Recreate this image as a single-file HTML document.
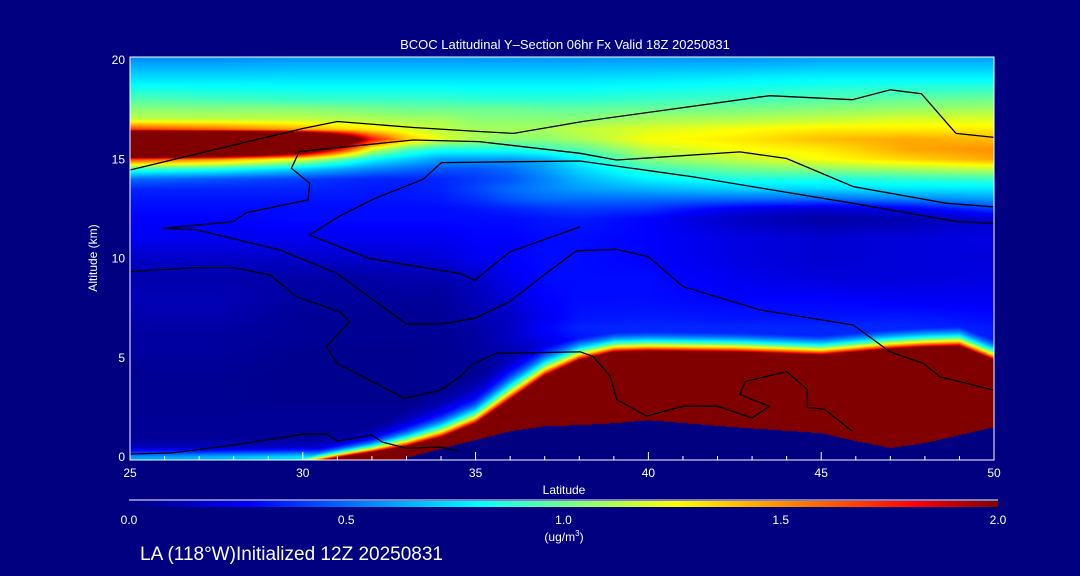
<!DOCTYPE html>
<html><head><meta charset="utf-8">
<style>
html,body{margin:0;padding:0;background:#000080;}
#wrap{position:relative;width:1080px;height:576px;background:#000080;overflow:hidden;font-family:"Liberation Sans",sans-serif;color:#fff;}
canvas{position:absolute;left:0;top:0;}
svg{position:absolute;left:0;top:0;}
</style></head>
<body>
<div id="wrap">
<canvas id="cv" width="1080" height="576"></canvas>
<svg id="sv" width="1080" height="576" xmlns="http://www.w3.org/2000/svg">
<defs>
<linearGradient id="cbg" x1="0" x2="1" y1="0" y2="0">
<stop offset="0" stop-color="#000080"/>
<stop offset="0.14" stop-color="#0000ff"/>
<stop offset="0.40" stop-color="#00ffff"/>
<stop offset="0.515" stop-color="#80ff80"/>
<stop offset="0.63" stop-color="#ffff00"/>
<stop offset="0.905" stop-color="#ff0000"/>
<stop offset="1" stop-color="#800000"/>
</linearGradient>
</defs>
<text x="565" y="49" font-size="13" fill="#fff" text-anchor="middle">BCOC Latitudinal Y–Section 06hr  Fx Valid 18Z 20250831</text>
<g id="contours"></g>
<g id="axes"></g>
<text x="564" y="494" font-size="12" fill="#fff" text-anchor="middle">Latitude</text>
<text x="97" y="258" font-size="12" fill="#fff" text-anchor="middle" transform="rotate(-90 97 258)">Altitude (km)</text>
<line x1="129" y1="500" x2="998" y2="500" stroke="#fff" stroke-width="1"/>
<rect x="129" y="501" width="869" height="6" fill="url(#cbg)"/>
<g id="cbticks"></g>
<text x="564" y="541" font-size="12" fill="#fff" text-anchor="middle">(ug/m<tspan font-size="8" dy="-5">3</tspan><tspan dy="5">)</tspan></text>
<text x="140" y="560" font-size="19" fill="#fff">LA (118°W)Initialized 12Z 20250831</text>
</svg>
</div>
<script>
const lats=[25,27.5,30,32,33,34,35,36,37,38,40,42.5,45,47.5,50];
const alts=[0,0.5,1,1.5,2,2.5,3,3.5,4,4.5,5,5.5,6,6.5,7,8,9,10,11,12,12.5,13,13.5,14,14.5,15,15.5,16,16.5,17,17.5,18,19,20];
const conc=[
[0.6,0.65,0.75,0.6,0.4,0.1,0.05,0.05,0.05,0.05,0.05,0.05,0.05,0.05,0.05],
[0.12,0.12,0.15,0.2,0.15,0.1,0.05,0.05,0.05,0.05,0.05,0.05,0.05,0.05,0.05],
[0.05,0.05,0.05,0.08,0.08,0.06,0.05,0.05,0.05,0.05,0.05,0.05,0.05,0.05,0.05],
[0.05,0.05,0.05,0.05,0.05,0.05,0.05,0.05,0.05,0.05,0.05,0.05,0.05,0.05,0.05],
[0.05,0.05,0.05,0.05,0.05,0.05,0.05,0.05,0.05,0.05,0.05,0.05,0.05,0.05,0.05],
[0.04,0.04,0.04,0.04,0.04,0.04,0.05,0.05,0.05,0.05,0.05,0.05,0.05,0.05,0.05],
[0.04,0.04,0.03,0.03,0.03,0.04,0.05,0.06,0.06,0.06,0.06,0.06,0.06,0.06,0.06],
[0.04,0.04,0.03,0.03,0.03,0.04,0.05,0.07,0.07,0.07,0.07,0.07,0.07,0.07,0.07],
[0.04,0.04,0.03,0.03,0.03,0.04,0.05,0.08,0.08,0.08,0.08,0.08,0.08,0.08,0.08],
[0.05,0.05,0.03,0.03,0.03,0.04,0.05,0.09,0.1,0.1,0.1,0.1,0.1,0.1,0.1],
[0.06,0.06,0.03,0.03,0.03,0.04,0.06,0.1,0.12,0.15,0.15,0.15,0.15,0.15,0.15],
[0.07,0.07,0.04,0.03,0.03,0.04,0.07,0.12,0.18,0.25,0.3,0.3,0.3,0.3,0.3],
[0.07,0.07,0.05,0.04,0.04,0.04,0.07,0.15,0.25,0.32,0.35,0.35,0.35,0.35,0.33],
[0.08,0.08,0.05,0.04,0.04,0.05,0.08,0.15,0.28,0.35,0.36,0.36,0.36,0.36,0.33],
[0.1,0.1,0.05,0.04,0.04,0.05,0.1,0.15,0.25,0.32,0.33,0.32,0.32,0.33,0.3],
[0.12,0.12,0.07,0.06,0.06,0.06,0.12,0.2,0.28,0.3,0.3,0.28,0.28,0.26,0.25],
[0.1,0.1,0.08,0.08,0.1,0.1,0.15,0.25,0.3,0.3,0.3,0.25,0.2,0.2,0.22],
[0.16,0.16,0.16,0.17,0.18,0.2,0.25,0.28,0.3,0.3,0.28,0.22,0.18,0.2,0.2],
[0.25,0.25,0.25,0.25,0.25,0.25,0.28,0.28,0.3,0.3,0.28,0.22,0.18,0.2,0.22],
[0.28,0.28,0.3,0.3,0.3,0.3,0.3,0.3,0.32,0.33,0.28,0.15,0.08,0.1,0.18],
[0.3,0.3,0.3,0.3,0.3,0.3,0.32,0.35,0.38,0.4,0.38,0.25,0.18,0.25,0.4],
[0.32,0.32,0.32,0.32,0.32,0.33,0.38,0.45,0.5,0.5,0.5,0.5,0.5,0.55,0.6],
[0.35,0.35,0.35,0.33,0.33,0.35,0.42,0.5,0.55,0.6,0.65,0.7,0.72,0.75,0.75],
[0.5,0.45,0.4,0.35,0.35,0.35,0.4,0.45,0.55,0.65,0.78,0.85,0.85,0.88,0.9],
[0.9,0.85,0.7,0.55,0.5,0.45,0.45,0.5,0.6,0.72,0.9,1.0,1.05,1.1,1.15],
[1.7,1.5,1.2,0.8,0.7,0.6,0.6,0.6,0.65,0.8,1.05,1.15,1.25,1.35,1.45],
[4,3.5,2.5,1.2,0.95,0.85,0.85,0.85,0.9,0.95,1.15,1.25,1.3,1.45,1.5],
[4,4,3.5,1.8,1.4,1.2,1.1,1.05,1.05,1.1,1.25,1.3,1.4,1.45,1.4],
[1.7,1.6,1.45,1.3,1.2,1.15,1.1,1.1,1.1,1.15,1.2,1.25,1.3,1.3,1.3],
[1.15,1.15,1.15,1.12,1.1,1.1,1.05,1.05,1.05,1.05,1.1,1.12,1.15,1.2,1.2],
[1.05,1.05,1.05,1.02,1.0,1.0,1.0,1.0,0.98,0.98,1.0,1.02,1.05,1.08,1.1],
[0.95,0.92,0.9,0.9,0.9,0.9,0.88,0.88,0.88,0.88,0.9,0.92,0.95,0.98,1.0],
[0.75,0.75,0.75,0.75,0.75,0.75,0.75,0.75,0.75,0.75,0.76,0.78,0.8,0.8,0.8],
[0.58,0.58,0.6,0.6,0.6,0.6,0.6,0.6,0.6,0.6,0.6,0.6,0.62,0.62,0.62]
];
// low-level smoke layer (saturated >2.0 region)
const layerLats=[25,29,30,31,32,33,34,35,36,37,38,39,40,42.5,45,46,47,48,49,50];
const layerTop=[-2,-0.8,-0.35,-0.02,0.25,0.55,1.0,1.7,2.9,4.1,4.9,5.3,5.35,5.3,5.15,5.3,5.45,5.55,5.6,4.9];
const layerBottom=[-3,-3,-3,-2,-0.8,-0.05,0.42,0.85,1.3,1.55,1.6,1.7,1.85,1.5,1.2,0.8,0.45,0.7,1.1,1.5];
const layerFade=[0.3,0.3,0.3,0.3,0.35,0.5,0.6,0.65,0.75,0.7,0.6,0.55,0.55,0.55,0.55,0.55,0.55,0.55,0.55,0.55];

const xTicks=[25,30,35,40,45,50];
const yTicks=[0,5,10,15,20];
const cbTicks=["0.0","0.5","1.0","1.5","2.0"];
const cbValues=[0,0.5,1,1.5,2];
const contourA=[[25,14.46],[30,16.55],[31,16.9],[33.2,16.6],[35.1,16.4],[36.1,16.3],[38.1,16.9],[43.5,18.2],[45.9,18.0],[47.0,18.5],[47.9,18.3],[48.9,16.3],[50,16.1]];
const contourB=[[25.96,11.52],[27.99,11.86],[28.37,12.31],[30.15,12.95],[30.2,13.79],[29.67,14.55],[29.9,15.39],[33.2,15.97],[35.1,15.89],[38.02,15.3],[39.08,14.96],[42.65,15.37],[44,15.04],[45.93,13.62],[48.63,12.78],[50,12.6]];
const contourC=[[25.96,11.52],[26.93,11.44],[29.34,10.43],[30.98,9.26],[33.0,6.7],[33.97,6.7],[34.98,6.99],[35.99,7.83],[37.05,9.26],[37.92,10.39],[39.08,10.46],[40.0,10.09],[41.01,8.58],[43.23,7.41],[45.93,6.65],[46.99,5.3],[47.96,4.71],[48.44,4.04],[50,3.37]];
const contourD=[[25,9.34],[26.93,9.54],[27.99,9.54],[29.05,9.17],[29.82,8.08],[31.07,7.32],[31.36,6.82],[30.69,5.56],[31.0,4.7],[32.96,2.95],[33.97,3.37],[34.55,4.04],[34.93,4.7],[35.61,5.22],[38.02,5.3],[38.4,5.07],[38.9,4.06],[39.08,2.9],[39.95,2.06],[41.0,2.56],[42.0,2.56],[43.0,1.97],[43.5,2.56],[42.65,3.15],[42.8,3.8],[44.0,4.3],[44.6,3.4],[44.6,2.5],[45.1,2.4],[45.9,1.3]];
const contourE=[[30.2,11.18],[31.07,12.14],[32.03,12.98],[33.48,13.99],[34.01,14.83],[38.02,14.91],[41.3,14.11],[45.93,12.78],[48.92,11.86],[50,11.77]];
const contourF=[[30.2,11.18],[31.93,10.0],[34.55,9.24],[34.98,8.9],[35.99,10.33],[38.02,11.59]];
const contourG=[[25,0.15],[26.2,0.2],[28,0.6],[30,1.15],[30.7,1.15],[31,0.8],[32,1.1],[32.3,0.75],[33,0.45],[34,0.5],[34.5,0.3]];
const contours=[contourA,contourB,contourC,contourD,contourE,contourF,contourG];

const X0=130,X1=994,YT=57,YB=460;
function xs(lat){return X0+(lat-25)*(X1-X0)/25;}
function ys(a){return 457-a*19.85;}
const stops=[[0,[0,0,128]],[0.28,[0,0,255]],[0.8,[0,255,255]],[1.03,[128,255,128]],[1.26,[255,255,0]],[1.81,[255,0,0]],[2.0,[128,0,0]]];
function cmap(v){
  if(v<=0)return stops[0][1];
  if(v>=2)return stops[stops.length-1][1];
  for(let i=0;i<stops.length-1;i++){
    if(v<=stops[i+1][0]){const t=(v-stops[i][0])/(stops[i+1][0]-stops[i][0]);
      const a=stops[i][1],b=stops[i+1][1];
      return [a[0]+(b[0]-a[0])*t,a[1]+(b[1]-a[1])*t,a[2]+(b[2]-a[2])*t];}
  }
}
function idx(arr,v){
  if(v<=arr[0])return [0,0];
  if(v>=arr[arr.length-1])return [arr.length-2,1];
  for(let i=0;i<arr.length-1;i++){if(v<=arr[i+1])return [i,(v-arr[i])/(arr[i+1]-arr[i])];}
}
function lerpArr(xsA,ysA,x){const [i,t]=idx(xsA,x);return ysA[i]*(1-t)+ysA[i+1]*t;}
function field(lat,a){
  const [i,tx]=idx(lats,lat),[j,ty]=idx(alts,a);
  const v00=conc[j][i],v10=conc[j][i+1],v01=conc[j+1][i],v11=conc[j+1][i+1];
  let v=(v00*(1-tx)+v10*tx)*(1-ty)+(v01*(1-tx)+v11*tx)*ty;
  const top=lerpArr(layerLats,layerTop,lat),bot=lerpArr(layerLats,layerBottom,lat),fd=lerpArr(layerLats,layerFade,lat);
  if(a>=bot&&a<=top) return 2.0;
  if(a<bot) return 0;
  const p=2*Math.exp(-(a-top)/fd);
  return Math.max(v,p);
}
const cv=document.getElementById('cv');const ctx=cv.getContext('2d');
const img=ctx.createImageData(X1-X0,YB-YT);
for(let py=YT;py<YB;py++){
  const a=(457-(py+0.5))/19.85;
  for(let px=X0;px<X1;px++){
    const lat=25+(px+0.5-X0)*25/(X1-X0);
    const c=cmap(field(lat,a));
    const k=((py-YT)*(X1-X0)+(px-X0))*4;
    img.data[k]=c[0];img.data[k+1]=c[1];img.data[k+2]=c[2];img.data[k+3]=255;
  }
}
ctx.putImageData(img,X0,YT);

const NS='http://www.w3.org/2000/svg';
const cg=document.getElementById('contours');
contours.forEach(function(c){
  const p=document.createElementNS(NS,'polyline');
  p.setAttribute('points',c.map(function(q){return xs(q[0]).toFixed(1)+','+ys(q[1]).toFixed(1);}).join(' '));
  p.setAttribute('fill','none');p.setAttribute('stroke','#000');p.setAttribute('stroke-width','1.3');
  
  
  cg.appendChild(p);
});
const ag=document.getElementById('axes');
const fr=document.createElementNS(NS,'rect');
fr.setAttribute('x',X0);fr.setAttribute('y',YT);fr.setAttribute('width',X1-X0);fr.setAttribute('height',YB-YT);
fr.setAttribute('fill','none');fr.setAttribute('stroke','#fff');fr.setAttribute('stroke-width','1');


ag.appendChild(fr);
for(let l=26;l<50;l++){
  const t=document.createElementNS(NS,'line');const major=(l%5===0);
  t.setAttribute('x1',xs(l));t.setAttribute('x2',xs(l));t.setAttribute('y1',YB);t.setAttribute('y2',YB-(major?8:4));
  t.setAttribute('stroke','#fff');
  
  
  ag.appendChild(t);
}
xTicks.forEach(function(v){
  const t=document.createElementNS(NS,'text');
  t.setAttribute('x',xs(v));t.setAttribute('y',477);t.setAttribute('font-size','12');t.setAttribute('fill','#fff');t.setAttribute('text-anchor','middle');
  t.textContent=String(v);
  
  
  ag.appendChild(t);
});
yTicks.forEach(function(v){
  const t=document.createElementNS(NS,'text');
  t.setAttribute('x',125);t.setAttribute('y',ys(v)+4);t.setAttribute('font-size','12');t.setAttribute('fill','#fff');t.setAttribute('text-anchor','end');
  t.textContent=String(v);
  
  
  ag.appendChild(t);
});
const cb=document.getElementById('cbticks');
cbTicks.forEach(function(s,i){
  const t=document.createElementNS(NS,'text');
  t.setAttribute('x',129+cbValues[i]/2*869);t.setAttribute('y',524);t.setAttribute('font-size','12');t.setAttribute('fill','#fff');t.setAttribute('text-anchor','middle');
  t.textContent=s;
  
  
  cb.appendChild(t);
});
</script>
</body></html>
